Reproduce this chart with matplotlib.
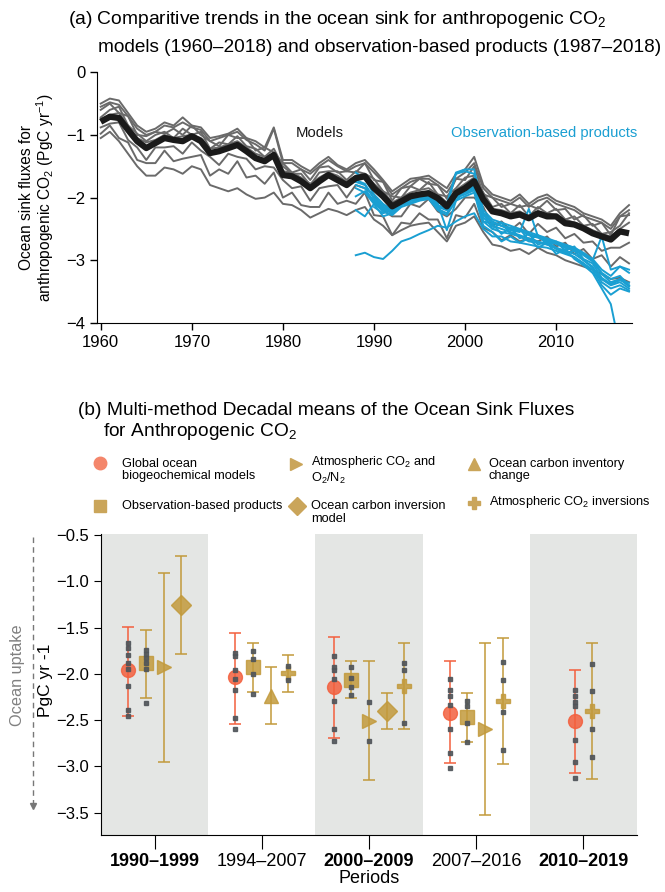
import matplotlib
matplotlib.use("Agg")
import matplotlib.pyplot as plt
import numpy as np
from matplotlib.lines import Line2D

plt.rcParams["font.family"] = ["Liberation Sans", "DejaVu Sans"]
plt.rcParams["mathtext.fontset"] = "custom"
plt.rcParams["mathtext.rm"] = "Liberation Sans"

# ---------------- panel (a) data ----------------
model_start = 1960
model_mean = [-0.79, -0.71, -0.73, -0.92, -1.10, -1.21, -1.13, -1.05, -1.08, -1.10,
              -1.02, -1.10, -1.29, -1.26, -1.21, -1.16, -1.26, -1.37, -1.42, -1.32,
              -1.64, -1.66, -1.74, -1.85, -1.74, -1.64, -1.72, -1.80, -1.69, -1.66,
              -1.85, -1.98, -2.14, -2.06, -1.98, -1.95, -1.93, -2.01, -2.14, -1.93,
              -1.85, -1.74, -2.03, -2.22, -2.25, -2.30, -2.27, -2.33, -2.25, -2.30,
              -2.30, -2.41, -2.43, -2.49, -2.57, -2.62, -2.67, -2.54, -2.57]

models = [
    [-0.50, -0.42, -0.45, -0.65, -0.85, -0.95, -0.90, -0.80, -0.85, -0.72,
     -0.85, -0.88, -1.05, -1.02, -0.98, -0.90, -1.05, -1.10, -1.20, -0.88,
     -1.40, -1.40, -1.50, -1.58, -1.45, -1.35, -1.48, -1.55, -1.45, -1.40,
     -1.55, -1.72, -1.90, -1.80, -1.70, -1.68, -1.65, -1.75, -1.85, -1.62,
     -1.55, -1.35, -1.80, -1.95, -2.00, -2.05, -1.95, -2.10, -2.00, -1.95,
     -2.05, -2.10, -2.15, -2.25, -2.30, -2.35, -2.45, -2.25, -2.12],
    [-0.60, -0.50, -0.65, -0.70, -1.00, -1.02, -0.95, -0.98, -0.90, -1.00,
     -0.85, -1.00, -1.10, -1.18, -1.00, -1.05, -1.05, -1.25, -1.20, -1.28,
     -1.45, -1.60, -1.55, -1.72, -1.52, -1.50, -1.60, -1.58, -1.60, -1.45,
     -1.72, -1.75, -2.05, -1.85, -1.82, -1.70, -1.78, -1.80, -2.02, -1.70,
     -1.72, -1.50, -1.95, -2.00, -2.15, -2.10, -2.15, -2.12, -2.18, -2.05,
     -2.20, -2.18, -2.35, -2.28, -2.45, -2.40, -2.60, -2.30, -2.28],
    [-0.72, -0.60, -0.55, -0.85, -0.98, -1.10, -1.00, -0.95, -1.05, -0.90,
     -1.00, -0.95, -1.22, -1.12, -1.15, -1.02, -1.18, -1.22, -1.35, -1.22,
     -1.50, -1.62, -1.62, -1.80, -1.60, -1.58, -1.58, -1.72, -1.58, -1.62,
     -1.70, -1.90, -1.98, -2.00, -1.82, -1.88, -1.75, -1.95, -1.98, -1.85,
     -1.68, -1.65, -1.92, -2.15, -2.10, -2.25, -2.12, -2.30, -2.15, -2.25,
     -2.18, -2.35, -2.30, -2.45, -2.42, -2.58, -2.55, -2.45, -2.25],
    [-0.75, -0.68, -0.65, -0.85, -1.05, -1.12, -1.08, -1.00, -1.05, -1.02,
     -1.00, -1.05, -1.22, -1.20, -1.15, -1.10, -1.20, -1.30, -1.35, -1.30,
     -1.58, -1.60, -1.68, -1.78, -1.68, -1.60, -1.65, -1.75, -1.65, -1.62,
     -1.78, -1.90, -2.08, -2.00, -1.92, -1.88, -1.85, -1.95, -2.08, -1.88,
     -1.78, -1.68, -2.00, -2.18, -2.20, -2.25, -2.22, -2.30, -2.22, -2.25,
     -2.28, -2.35, -2.40, -2.45, -2.52, -2.58, -2.62, -2.50, -2.40],
    [-0.88, -0.82, -0.80, -1.08, -1.20, -1.40, -1.20, -1.20, -1.18, -1.30,
     -1.12, -1.25, -1.35, -1.48, -1.30, -1.35, -1.38, -1.55, -1.50, -1.52,
     -1.72, -1.85, -1.82, -2.05, -1.85, -1.82, -1.80, -2.00, -1.80, -1.85,
     -1.95, -2.20, -2.30, -2.30, -2.10, -2.15, -2.02, -2.22, -2.30, -2.18,
     -2.00, -2.00, -2.15, -2.45, -2.38, -2.52, -2.40, -2.58, -2.42, -2.55,
     -2.48, -2.65, -2.58, -2.72, -2.70, -2.85, -2.80, -2.80, -2.72],
    [-0.98, -0.85, -1.05, -1.12, -1.40, -1.45, -1.45, -1.25, -1.42, -1.38,
     -1.35, -1.32, -1.65, -1.55, -1.62, -1.42, -1.68, -1.65, -1.78, -1.60,
     -2.00, -1.92, -2.12, -2.15, -2.15, -1.92, -2.10, -2.05, -2.10, -1.92,
     -2.28, -2.30, -2.60, -2.40, -2.42, -2.25, -2.35, -2.35, -2.65, -2.28,
     -2.32, -2.10, -2.48, -2.55, -2.68, -2.60, -2.70, -2.65, -2.70, -2.62,
     -2.78, -2.72, -2.90, -2.82, -2.98, -2.92, -3.10, -2.95, -3.05],
    [-1.05, -0.95, -1.10, -1.30, -1.50, -1.65, -1.65, -1.52, -1.55, -1.62,
     -1.50, -1.55, -1.80, -1.85, -1.90, -1.85, -1.95, -2.02, -2.00, -1.92,
     -2.10, -2.12, -2.20, -2.32, -2.25, -2.18, -2.22, -2.28, -2.20, -2.15,
     -2.35, -2.45, -2.60, -2.52, -2.45, -2.42, -2.40, -2.55, -2.70, -2.45,
     -2.40, -2.30, -2.55, -2.75, -2.78, -2.85, -2.82, -2.90, -2.80, -2.88,
     -2.92, -3.00, -3.05, -3.10, -3.15, -3.22, -3.30, -3.28, -3.35],
    [-0.55, -0.48, -0.52, -0.70, -0.90, -1.00, -0.95, -0.85, -0.88, -0.80,
     -0.88, -0.92, -1.10, -1.05, -1.00, -0.95, -1.08, -1.15, -1.25, -0.90,
     -1.45, -1.45, -1.55, -1.62, -1.50, -1.40, -1.50, -1.58, -1.50, -1.45,
     -1.60, -1.75, -1.95, -1.85, -1.75, -1.70, -1.70, -1.80, -1.92, -1.70,
     -1.60, -1.45, -1.85, -2.00, -2.05, -2.10, -2.00, -2.15, -2.05, -2.00,
     -2.10, -2.15, -2.20, -2.30, -2.35, -2.40, -2.50, -2.30, -2.20],
]

obs_start = 1988
nan = np.nan
obs_products = [
    [-1.60, -1.70, -1.95, -2.10, -2.20, -2.05, -2.00, -1.95, -1.90, -2.05,
     -2.10, -1.60, -1.55, -1.55, -2.20, -2.35, -2.40, -2.45, -2.50, -2.55,
     -2.60, -2.65, -2.70, -2.75, -2.80, -2.90, -3.00, -3.20, -3.30, -3.25, -3.40],
    [-1.72, -1.78, -2.02, -2.18, -2.25, -2.12, -2.05, -2.02, -2.00, -2.15,
     -2.20, -1.98, -1.90, -1.82, -2.25, -2.50, -2.40, -2.58, -2.50, -2.68,
     -2.60, -2.75, -2.70, -2.85, -2.78, -2.98, -3.05, -3.28, -3.38, -3.30, -3.42],
    [-1.80, -1.85, -2.08, -2.22, -2.28, -2.15, -2.10, -2.05, -2.02, -2.18,
     -2.25, -2.00, -1.95, -1.88, -2.38, -2.42, -2.58, -2.48, -2.65, -2.58,
     -2.75, -2.70, -2.80, -2.88, -2.85, -3.00, -3.12, -3.30, -3.40, -3.35, -3.45],
    [nan, nan, -2.15, -2.25, -2.20, -2.05, -2.02, -1.98, -1.95, -2.10,
     -2.52, -2.05, -1.90, -1.85, -2.25, -2.38, -2.45, -2.48, -2.52, -2.58,
     -2.62, -2.68, -2.72, -2.76, -2.80, -2.88, -2.98, -3.15, -3.25, -3.10, -3.20],
    [-1.98, -1.90, -2.05, -2.20, -2.18, -2.08, -2.02, -1.98, -1.92, -2.08,
     -2.12, -1.95, -1.85, -1.80, -2.25, -2.40, -2.45, -2.52, -2.55, -2.18,
     -2.62, -2.66, -2.72, -2.78, -2.82, -2.90, -3.00, -2.62, -3.15, -3.10, -3.15],
    [-2.20, -2.30, -2.10, -2.15, -2.25, -2.10, -2.05, -2.02, -2.00, -2.12,
     -2.18, -2.00, -1.92, -1.88, -2.38, -2.50, -2.55, -2.58, -2.62, -2.70,
     -2.72, -2.75, -2.80, -2.85, -2.90, -3.00, -3.10, -3.35, -3.45, -3.40, -3.48],
    [-2.92, -2.88, -2.95, -2.98, -2.85, -2.70, -2.65, -2.58, -2.52, -2.45,
     -2.48, -2.38, -2.30, -2.25, -2.50, -2.62, -2.62, -2.70, -2.72, -2.75,
     -2.78, -2.80, -2.85, -2.90, -2.95, -3.05, -3.15, -3.40, -3.55, -3.45, -3.50],
    [-1.75, -1.80, -2.00, -2.15, -2.22, -2.10, -2.05, -2.00, -1.98, -2.12,
     -2.20, -1.96, -1.88, -1.85, -2.32, -2.45, -2.50, -2.55, -2.60, -2.66,
     -2.70, -2.74, -2.82, -2.88, -2.95, -3.05, -3.20, -3.45, -3.70, -4.40, nan],
    [nan, nan, -2.00, -2.12, -2.20, -2.08, -2.02, -1.97, -1.95, -2.05,
     -2.15, -1.62, -1.58, -1.62, -2.28, -2.40, -2.45, -2.50, -2.52, -2.60,
     -2.64, -2.70, -2.74, -2.80, -2.84, -2.92, -3.02, -3.22, -3.35, -3.30, -3.40],
    [-1.85, -1.92, -2.10, -2.30, -2.25, -2.12, -2.08, -2.04, -2.02, -2.20,
     -2.28, -2.05, -1.98, -1.92, -2.45, -2.55, -2.70, -2.62, -2.72, -2.65,
     -2.80, -2.72, -2.90, -2.82, -2.98, -3.08, -3.20, -3.30, -3.38, -3.32, -3.36],
]

# ---------------- panel (b) data ----------------
periods = ["1990–1999", "1994–2007", "2000–2009", "2007–2016", "2010–2019"]
bold_periods = [True, False, True, False, True]

# None = method not available for that period
gobm_mean = [-1.96, -2.03, -2.14, -2.42, -2.51]
gobm_hi = [-1.49, -1.56, -1.60, -1.86, -1.96]
gobm_lo = [-2.45, -2.54, -2.69, -2.96, -3.07]
gobm_members = [
    [-1.66, -1.72, -1.79, -1.88, -1.95, -2.13, -2.39, -2.45],
    [-1.77, -1.81, -1.96, -2.05, -2.17, -2.48, -2.59],
    [-1.81, -1.92, -1.96, -2.05, -2.29, -2.60, -2.73],
    [-2.05, -2.17, -2.24, -2.34, -2.60, -2.85, -3.02],
    [-2.17, -2.24, -2.30, -2.35, -2.71, -2.95, -3.12],
]

obs_mean = [-1.88, -1.92, -2.06, -2.47, None]
obs_hi = [-1.52, -1.67, -1.86, -2.21, None]
obs_lo = [-2.26, -2.20, -2.26, -2.74, None]
obs_members = [
    [-1.74, -1.78, -1.83, -1.88, -1.95, -2.31],
    [-1.75, -1.84, -2.00, -2.22],
    [-1.92, -2.04, -2.14, -2.23],
    [-2.29, -2.35, -2.53, -2.74],
    [],
]

o2n2_mean = [-1.93, None, -2.51, -2.60, None]
o2n2_hi = [-0.91, None, -1.86, -1.66, None]
o2n2_lo = [-2.95, None, -3.15, -3.53, None]
o2n2_members = [[], [], [-2.30, -2.72], [], []]

inv_model_mean = [-1.25, None, -2.40, None, None]
inv_model_hi = [-0.72, None, -2.21, None, None]
inv_model_lo = [-1.78, None, -2.60, None, None]

inventory_mean = [None, -2.24, None, None, None]
inventory_hi = [None, -1.92, None, None, None]
inventory_lo = [None, -2.54, None, None, None]

atm_inv_mean = [None, -1.99, -2.13, -2.29, -2.40]
atm_inv_hi = [None, -1.80, -1.66, -1.61, -1.66]
atm_inv_lo = [None, -2.19, -2.60, -2.97, -3.14]
atm_inv_members = [
    [],
    [-1.91, -2.06],
    [-1.88, -1.96, -2.53],
    [-1.87, -2.07, -2.41, -2.82],
    [-1.89, -2.18, -2.60, -2.90],
]

RED = "#f3603e"
GOLD = "#c29a3c"
GRAY_LINE = "#6a6a6a"
BLUE = "#1a9fd2"
DOT = "#50555a"

fig = plt.figure(figsize=(6.65, 8.92), dpi=100)

# ================= panel (a) =================
ax = fig.add_axes([0.146, 0.638, 0.804, 0.281])
for line in models:
    yrs = model_start + np.arange(len(line))
    ax.plot(yrs, line, color=GRAY_LINE, lw=1.4, zorder=2)
for line in obs_products:
    yrs = obs_start + np.arange(len(line))
    ax.plot(yrs, line, color=BLUE, lw=1.4, zorder=3)
yrs = model_start + np.arange(len(model_mean))
ax.plot(yrs, model_mean, color="#1a1a1a", lw=4.5, zorder=4, solid_capstyle="butt")

ax.set_xlim(1959.6, 2018.3)
ax.set_ylim(-4, 0)
ax.set_xticks([1960, 1970, 1980, 1990, 2000, 2010])
ax.set_yticks([0, -1, -2, -3, -4])
ax.set_yticklabels(["0", "−1", "−2", "−3", "−4"])
for s in ["top", "right"]:
    ax.spines[s].set_visible(False)
ax.tick_params(labelsize=12, length=5, width=1, direction="out")
ax.set_ylabel("Ocean sink fluxes for\nanthropogenic CO$_2$ (PgC yr$^{-1}$)",
              fontsize=11.2, labelpad=7, linespacing=1.05)
ax.text(1981.4, -0.97, "Models", fontsize=10.7, color="#1a1a1a", va="center")
ax.text(1998.5, -0.97, "Observation-based products", fontsize=10.6, color=BLUE, va="center")

fig.text(0.103, 0.978, "(a) Comparitive trends in the ocean sink for anthropogenic CO$_2$",
         fontsize=13.9, va="center")
fig.text(0.148, 0.947, "models (1960–2018) and observation-based products (1987–2018)",
         fontsize=13.7, va="center")

# ================= panel (b) =================
fig.text(0.117, 0.540, "(b) Multi-method Decadal means of the Ocean Sink Fluxes",
         fontsize=13.8, va="center")
fig.text(0.155, 0.516, "for Anthropogenic CO$_2$", fontsize=13.8, va="center")

# legend drawn by hand: marker x, marker y, marker, colour, text x, text lines with y
leg_items = [
    (0.150, 0.481, "o", "#f4866b", 0.183,
     [("Global ocean", 0.480), ("biogeochemical models", 0.466)]),
    (0.445, 0.480, ">", "#caa55a", 0.468,
     [("Atmospheric CO$_2$ and", 0.482), ("O$_2$/N$_2$", 0.464)]),
    (0.713, 0.480, "^", "#caa55a", 0.735,
     [("Ocean carbon inventory", 0.480), ("change", 0.466)]),
    (0.150, 0.433, "s", "#caa55a", 0.183,
     [("Observation-based products", 0.433)]),
    (0.446, 0.433, "D", "#caa55a", 0.468,
     [("Ocean carbon inversion", 0.433), ("model", 0.418)]),
    (0.713, 0.436, "P", "#caa55a", 0.735,
     [("Atmospheric CO$_2$ inversions", 0.437)]),
]
for mx, my, mk, mc, tx, lines in leg_items:
    fig.add_artist(Line2D([mx], [my], marker=mk, color=mc, markersize=9,
                          linestyle="none", transform=fig.transFigure))
    for txt, ty in lines:
        fig.text(tx, ty, txt, fontsize=9.2, va="center")

bx = fig.add_axes([0.152, 0.064, 0.806, 0.337])
xpos = np.arange(len(periods))
for i in xpos:
    if bold_periods[i]:
        bx.axvspan(i - 0.5, i + 0.5, color="#e4e6e4", lw=0, zorder=0)

methods = [
    (gobm_mean, gobm_hi, gobm_lo, gobm_members, "o", RED, 10),
    (obs_mean, obs_hi, obs_lo, obs_members, "s", GOLD, 10),
    (o2n2_mean, o2n2_hi, o2n2_lo, o2n2_members, ">", GOLD, 10),
    (inv_model_mean, inv_model_hi, inv_model_lo, None, "D", GOLD, 10),
    (inventory_mean, inventory_hi, inventory_lo, None, "^", GOLD, 10),
    (atm_inv_mean, atm_inv_hi, atm_inv_lo, atm_inv_members, "P", GOLD, 10),
]
step = 0.165
for p in xpos:
    avail = [m for m in methods if m[0][p] is not None]
    offsets = (np.arange(len(avail)) - (len(avail) - 1) / 2) * step
    for off, (mean, hi, lo, members, mk, col, ms) in zip(offsets, avail):
        x = p + off
        bx.errorbar([x], [mean[p]], yerr=[[mean[p] - lo[p]], [hi[p] - mean[p]]],
                    fmt="none", ecolor=col, elinewidth=1.3, capsize=4, capthick=1.3,
                    alpha=0.85, zorder=2)
        bx.plot([x], [mean[p]], marker=mk, color=col, markersize=ms, alpha=0.85,
                linestyle="none", zorder=3)
        if members is not None and members[p]:
            bx.plot([x] * len(members[p]), members[p], marker="s", color=DOT,
                    markersize=3.5, linestyle="none", alpha=0.9, zorder=4)

bx.set_xlim(-0.5, 4.5)
bx.set_ylim(-3.74, -0.49)
bx.set_yticks([-0.5, -1.0, -1.5, -2.0, -2.5, -3.0, -3.5])
bx.set_yticklabels(["−0.5", "−1.0", "−1.5", "−2.0", "−2.5", "−3.0", "−3.5"])
bx.set_xticks(xpos)
bx.set_xticklabels(periods)
for lab, b in zip(bx.get_xticklabels(), bold_periods):
    lab.set_fontweight("bold" if b else "normal")
for s in ["top", "right"]:
    bx.spines[s].set_visible(False)
bx.tick_params(axis="y", labelsize=12, length=5, direction="out")
bx.tick_params(axis="x", labelsize=13, length=10, direction="out", pad=3)
bx.set_xlabel("Periods", fontsize=13, labelpad=0)
fig.text(0.068, 0.237, "PgC yr -1", fontsize=12.5, rotation=90, ha="center", va="center")

# ocean uptake arrow
fig.add_artist(Line2D([0.050, 0.050], [0.398, 0.100], color="#777777", lw=1,
                      linestyle=(0, (4, 3)), transform=fig.transFigure))
fig.add_artist(Line2D([0.050], [0.096], marker="v", color="#777777", markersize=4.5,
                      linestyle="none", transform=fig.transFigure))
fig.text(0.027, 0.243, "Ocean uptake", fontsize=11.7, color="#808080", rotation=90,
         ha="center", va="center")

fig.savefig("out.png", dpi=100)
